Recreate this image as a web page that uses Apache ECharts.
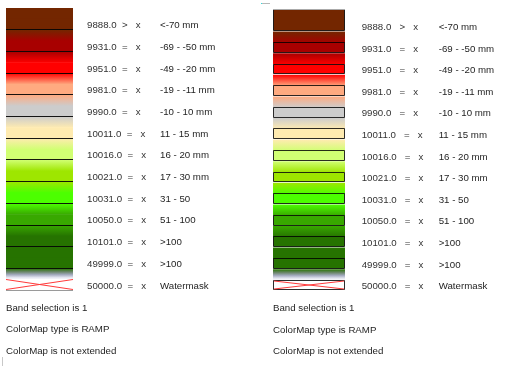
<!DOCTYPE html>
<html>
<head>
<meta charset="utf-8">
<script src="https://cdn.jsdelivr.net/npm/echarts@6/dist/echarts.min.js"></script>
<style>
html,body{margin:0;padding:0;background:#fff;}
#chart{width:524px;height:366px;}
</style>
</head>
<body>
<div id="chart"></div>
<script>
// ---- data ----
const values = ['9888.0','9931.0','9951.0','9981.0','9990.0','10011.0','10016.0','10021.0','10031.0','10050.0','10101.0','49999.0','50000.0'];
const operators = ['>','=','=','=','=','=','=','=','=','=','=','=','='];
const labels = ['<-70 mm','-69 - -50 mm','-49 - -20 mm','-19 - -11 mm','-10 - 10 mm','11 - 15 mm','16 - 20 mm','17 - 30 mm','31 - 50','51 - 100','>100','>100','Watermask'];
const colors = ['#732600','#a80000','#ff0000','#ffaa80','#cccccc','#ffebb0','#d1ff73','#9ee600','#4cff00','#38a800','#267300','#267300', null];
const footer = ['Band selection is 1','ColorMap type is RAMP','ColorMap is not extended'];

const FONT = '9.7px "Liberation Sans", Arial, sans-serif';
const TEXT_DY = 1.2;
const rows = values.map((v, i) => [i]);
const footRows = footer.map((f, i) => [values.length + i]);

function grad(a, b) {
  let stops;
  if (b === null) {
    stops = [{offset:0,color:a},{offset:0.3,color:'#6a8668'},{offset:0.55,color:'#a2a9bd'},{offset:0.8,color:'#e2e4ef'},{offset:1,color:'#ffffff'}];
  } else {
    stops = [{offset:0,color:a},{offset:1,color:b}];
  }
  return new echarts.graphic.LinearGradient(0,0,0,1,stops);
}

function textEls(i, x1, top, h, cfg) {
  const y = top + 0.75 * h + TEXT_DY;
  return [
    {type:'text', style:{text: values[i] + cfg.gap1 + operators[i] + cfg.gap2 + 'x', x: x1 + cfg.valOff, y: y, font: FONT, fill:'#333', align:'left', verticalAlign:'middle'}},
    {type:'text', style:{text: labels[i], x: x1 + cfg.labOff, y: y, font: FONT, fill:'#1e1e1e', align:'left', verticalAlign:'middle'}}
  ];
}

function xMark(x0, y0, x1, y1) {
  return [
    {type:'line', shape:{x1:x0,y1:y0,x2:x1,y2:y1}, style:{stroke:'#ff3a3a', lineWidth:1}},
    {type:'line', shape:{x1:x0,y1:y1,x2:x1,y2:y0}, style:{stroke:'#ff3a3a', lineWidth:1}}
  ];
}

function renderLeft(params, api) {
  const i = api.value(0);
  const a = api.coord([0, i]);
  const b = api.coord([1, i + 1]);
  const x0 = a[0], x1 = b[0], top = a[1], bot = b[1], h = bot - top, mid = top + h / 2;
  const cur = colors[i];
  const prev = i > 0 ? colors[i - 1] : cur;
  const ch = [];
  ch.push({type:'rect', shape:{x:x0, y:top, width:x1 - x0, height:mid - top + 0.5}, style:{fill: grad(prev, cur)}});
  ch.push({type:'rect', shape:{x:x0, y:mid, width:x1 - x0, height:bot - mid}, style:{fill: cur || '#ffffff'}});
  if (cur === null) {
    ch.push(...xMark(x0, Math.floor(mid) + 0.5, x1, Math.floor(bot) - 0.5));
    ch.push({type:'line', shape:{x1:x0, y1:Math.floor(bot) + 0.5, x2:x1, y2:Math.floor(bot) + 0.5}, style:{stroke:'#9a9a9a', lineWidth:1}});
  }
  if (i > 0) {
    const ly = Math.floor(top) + 0.5;
    ch.push({type:'line', shape:{x1:x0, y1:ly, x2:x1, y2:ly}, style:{stroke:'rgba(0,0,0,0.9)', lineWidth:1}});
  }
  ch.push(...textEls(i, x1, top, h, {gap1:'  ', gap2:'   ', valOff:14, labOff:87}));
  return {type:'group', children: ch};
}

function renderRight(params, api) {
  const i = api.value(0);
  const a = api.coord([0, i]);
  const b = api.coord([1, i + 1]);
  const x0 = a[0], x1 = b[0], top = a[1], bot = b[1], h = bot - top, mid = top + h / 2;
  const cur = colors[i];
  const prev = i > 0 ? colors[i - 1] : cur;
  const ch = [];
  const boxTop = i === 0 ? top : mid;
  if (i > 0) {
    ch.push({type:'rect', shape:{x:x0, y:top, width:x1 - x0, height:mid - top + 0.5}, style:{fill: grad(prev, cur)}});
  }
  const by0 = (i === 0 ? Math.floor(boxTop) - 0.5 : Math.floor(boxTop) + 0.5);
  const by1 = Math.floor(bot) - 0.5;
  ch.push({type:'rect', shape:{x:x0 + 0.5, y:by0, width:x1 - x0 - 1, height:by1 - by0},
    style:{fill: cur || '#ffffff', stroke:'rgba(0,0,0,0.82)', lineWidth:1}});
  if (cur === null) {
    ch.push(...xMark(x0 + 1, by0 + 0.5, x1 - 1, by1 - 0.5));
  }
  if (i === 0) {
    ch.push({type:'line', shape:{x1:x0, y1:by0, x2:x1, y2:by0}, style:{stroke:'#aaaaaa', lineWidth:1}});
  }
  ch.push(...textEls(i, x1, top, h, {gap1:'   ', gap2:'   ', valOff:16.7, labOff:93.7}));
  return {type:'group', children: ch};
}

function renderFooter(params, api) {
  const i = api.value(0);
  const a = api.coord([0, i]);
  const b = api.coord([1, i + 1]);
  const h = b[1] - a[1];
  return {type:'text', style:{text: footer[i - values.length], x: a[0], y: a[1] + 0.75 * h + TEXT_DY + 0.4, font: FONT, fill:'#1e1e1e', align:'left', verticalAlign:'middle'}};
}

const chart = echarts.init(document.getElementById('chart'), null, {renderer:'canvas'});
chart.setOption({
  backgroundColor:'#ffffff',
  animation:false,
  grid:[
    {left:6, top:8, width:67, height:21.7 * 16},
    {left:273, top:10, width:72, height:21.6 * 16}
  ],
  xAxis:[
    {gridIndex:0, type:'value', min:0, max:1, show:false},
    {gridIndex:1, type:'value', min:0, max:1, show:false}
  ],
  yAxis:[
    {gridIndex:0, type:'value', min:0, max:16, inverse:true, show:false},
    {gridIndex:1, type:'value', min:0, max:16, inverse:true, show:false}
  ],
  series:[
    {type:'custom', xAxisIndex:0, yAxisIndex:0, data: rows, renderItem: renderLeft, clip:false, silent:true},
    {type:'custom', xAxisIndex:1, yAxisIndex:1, data: rows, renderItem: renderRight, clip:false, silent:true},
    {type:'custom', xAxisIndex:0, yAxisIndex:0, data: footRows, renderItem: renderFooter, clip:false, silent:true},
    {type:'custom', xAxisIndex:1, yAxisIndex:1, data: footRows, renderItem: renderFooter, clip:false, silent:true}
  ],
  graphic:[
    {type:'line', shape:{x1:262, y1:3.5, x2:270, y2:3.5}, style:{stroke:'#b8b8b8', lineWidth:1}, silent:true},
    {type:'rect', shape:{x:261, y:3, width:1, height:1}, style:{fill:'#30e0e0'}, silent:true},
    {type:'line', shape:{x1:2.5, y1:357, x2:2.5, y2:366}, style:{stroke:'#c8c8c8', lineWidth:1}, silent:true}
  ]
});
</script>
</body>
</html>
